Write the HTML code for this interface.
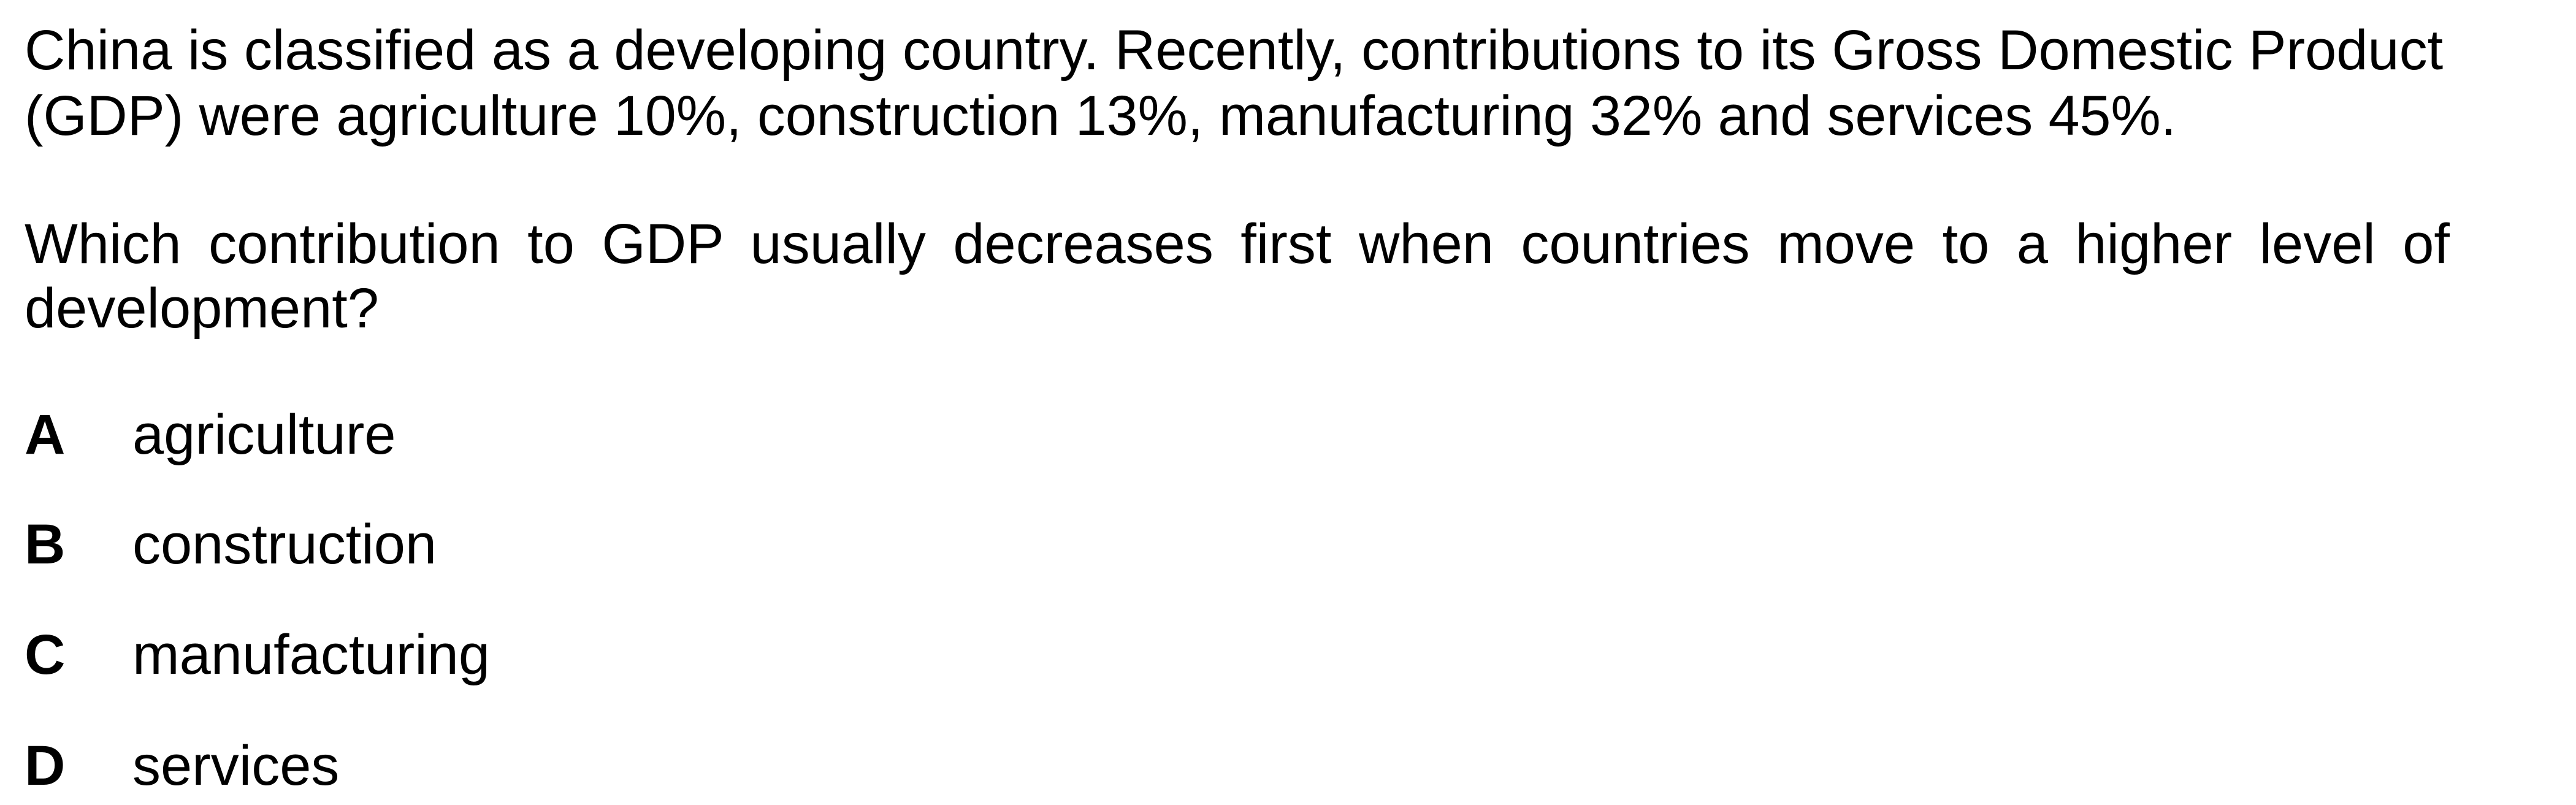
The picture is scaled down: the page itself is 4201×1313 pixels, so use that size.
<!DOCTYPE html>
<html><head><meta charset="utf-8"><style>
html,body{margin:0;padding:0;background:#fff;}
body{width:4201px;height:1313px;position:relative;overflow:hidden;font-family:"Liberation Sans",Arial,sans-serif;font-size:92px;line-height:100px;color:#000;}
.l{position:absolute;left:40px;white-space:nowrap;}
.j{position:absolute;left:40px;width:3955px;text-align:justify;text-align-last:justify;}
.k{position:absolute;left:40px;font-weight:bold;}
.o{position:absolute;left:216px;}
</style></head><body>
<div class="l" style="top:32px">China is classified as a developing country. Recently, contributions to its Gross Domestic Product</div>
<div class="l" style="top:139px;font-size:91.5px">(GDP) were agriculture 10%, construction 13%, manufacturing 32% and services 45%.</div>
<div class="j" style="top:348px">Which contribution to GDP usually decreases first when countries move to a higher level of</div>
<div class="l" style="top:453px">development?</div>
<div><div class="k" style="top:659px">A</div><div class="o" style="top:659px">agriculture</div></div>
<div><div class="k" style="top:838px">B</div><div class="o" style="top:838px">construction</div></div>
<div><div class="k" style="top:1018px">C</div><div class="o" style="top:1018px">manufacturing</div></div>
<div><div class="k" style="top:1199px">D</div><div class="o" style="top:1199px">services</div></div>
</body></html>
